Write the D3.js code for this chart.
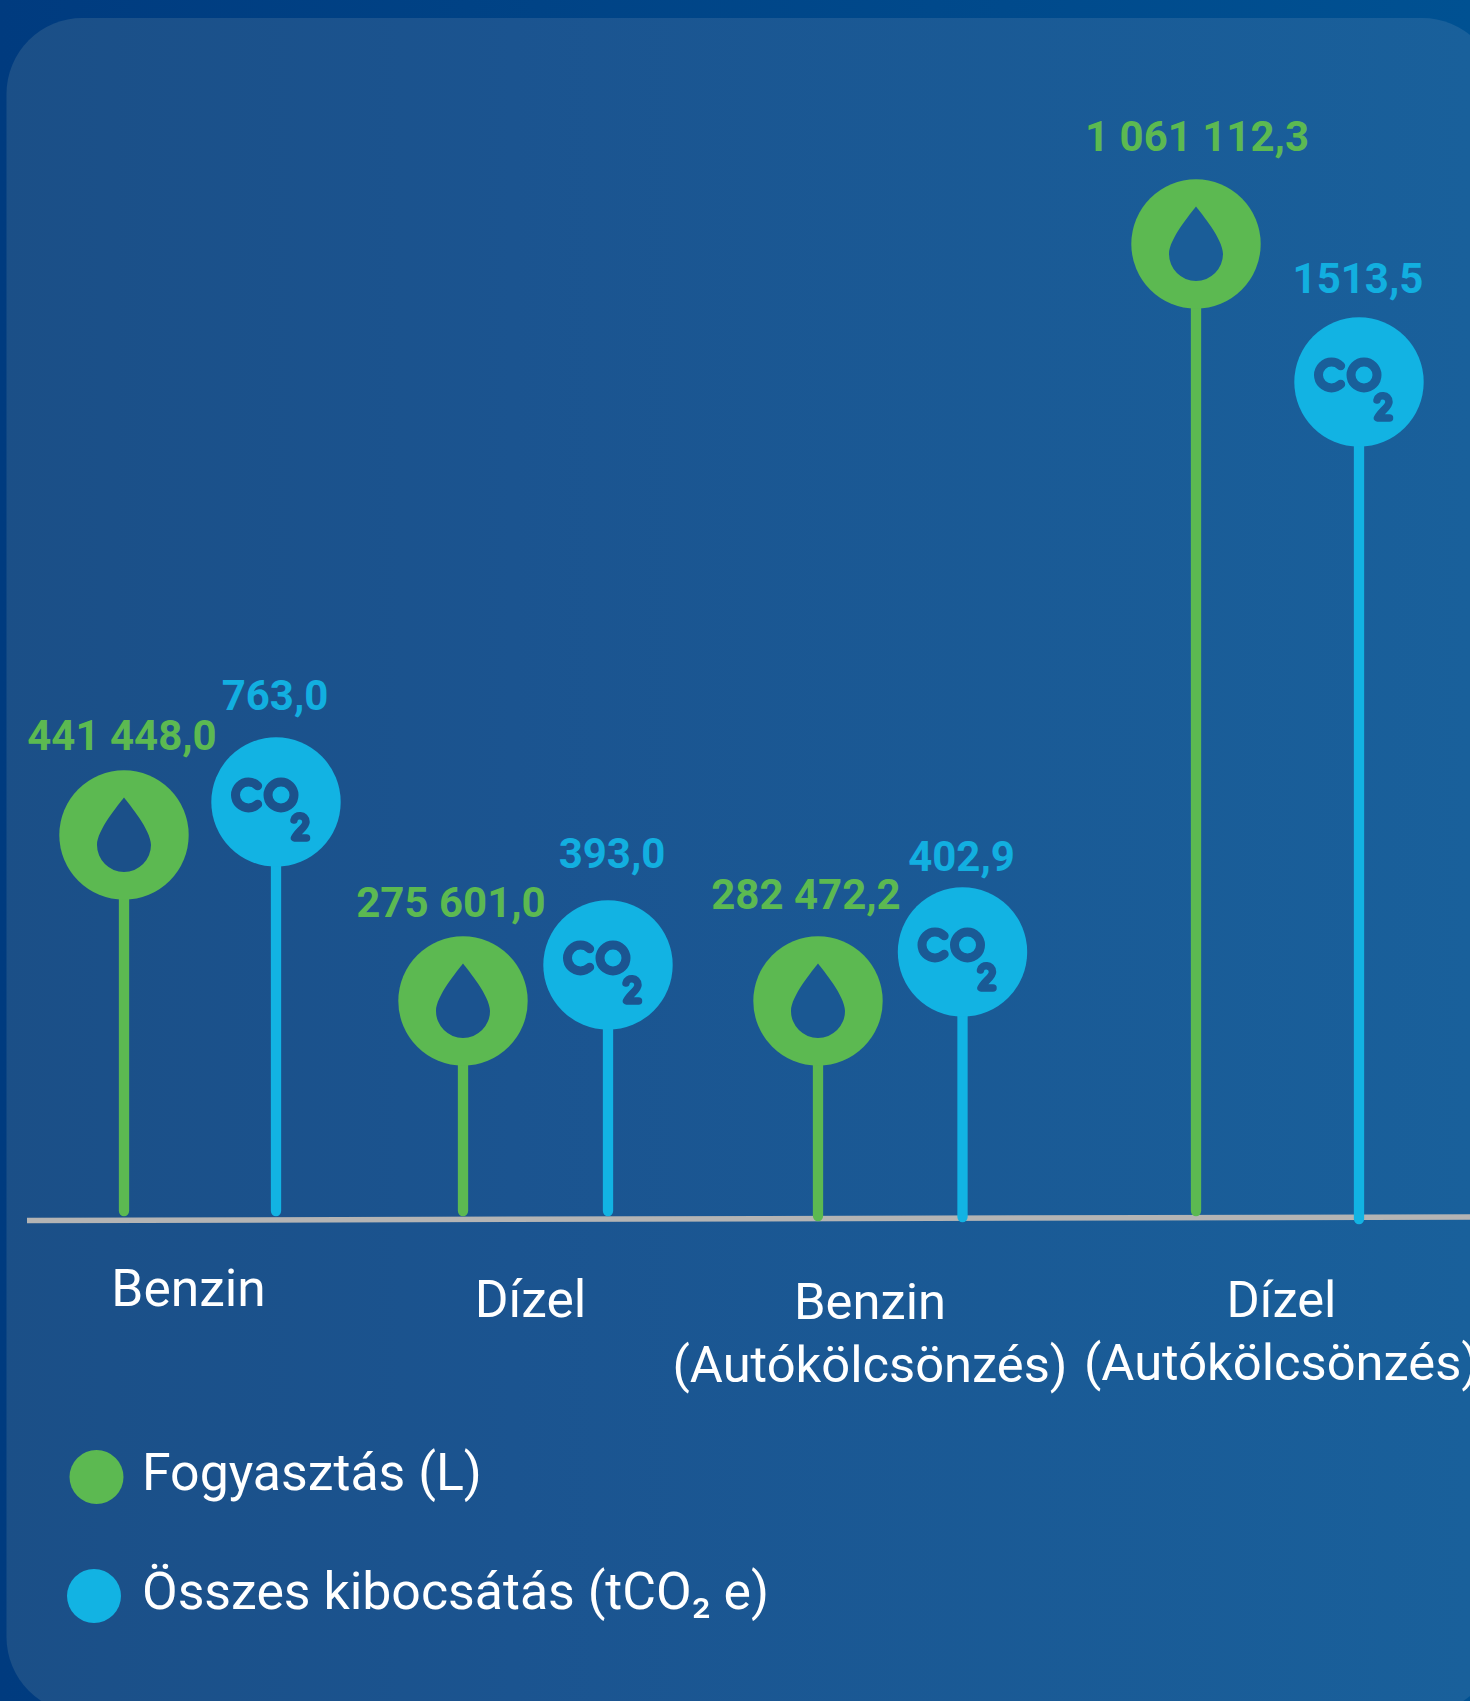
<!DOCTYPE html>
<html lang="hu">
<head>
  <meta charset="UTF-8">
  <title>Fogyasztás és kibocsátás</title>
  <script src="https://d3js.org/d3.v7.min.js"></script>
  <style>
    body { margin: 0; background: #003c80; overflow: hidden; }
    svg { display: block; font-family: Roboto, sans-serif; }
    .value { font-size: 42px; font-weight: 700; text-anchor: middle; }
    .cat { font-size: 51.5px; fill: #fff; text-anchor: middle; }
    .cat.long { font-size: 50.7px; }
    .legend-label { font-size: 51.8px; fill: #fff; }
  </style>
</head>
<body>
  <div id="chart"></div>

  <script>
    // data
    const categories = ["Benzin", "Dízel", "Benzin (Autókölcsönzés)", "Dízel (Autókölcsönzés)"];
    const fogyasztas = [441448.0, 275601.0, 282472.2, 1061112.3];
    const kibocsatas = [763.0, 393.0, 402.9, 1513.5];
    const seriesNames = ["Fogyasztás (L)", "Összes kibocsátás (tCO₂ e)"];

    const width = 1470, height = 1701, pinR = 64.7;
    const green = "#5cb951", blue = "#12b3e3";

    // the original infographic is not drawn to scale, so the y scales are piecewise
    const yGreen = d3.scaleLinear()
      .domain([275601, 282472.2, 441448, 1061112.3])
      .range([1001, 1001, 835, 244]);
    const yBlue = d3.scaleLinear()
      .domain([393, 402.9, 763, 1513.5])
      .range([965, 952, 802, 382]);

    const xGreen = d3.scaleOrdinal(categories, [124, 463, 818, 1196]);
    const xBlue = d3.scaleOrdinal(categories, [276, 608, 962.5, 1359]);
    const xCat = d3.scaleOrdinal(categories, [188.5, 530.5, 870, 1281.5]);

    // hand placed bits of the layout, one per category
    const greenBottom = [1216, 1216, 1221, 1216];
    const blueBottom = [1216, 1216, 1222, 1224];
    const greenLabel = [[-2, -85], [-12, -84], [-12, -92], [1, -93]];
    const blueLabel = [[-1, -92], [4, -97], [-1, -81], [-1, -89]];
    const catBase = [[1306], [1317], [1319, 1382], [1317, 1380]];

    // panel colour across the width, the icons are punched out in it
    const panelStops = [0, 0.35, 1];
    const panelColors = ["#1b4f87", "#1b5490", "#19609b"];
    const panelAt = d3.scaleLinear()
      .domain(panelStops.map(s => s * width))
      .range(panelColors);

    const locale = d3.formatLocale({ decimal: ",", thousands: " ", grouping: [3], currency: ["", ""] });
    const fmtGreen = locale.format(",.1f");
    const fmtBlue = locale.format(".1f");

    const svg = d3.select("#chart").append("svg")
      .attr("width", width)
      .attr("height", height);

    const defs = svg.append("defs");

    const outerGrad = defs.append("linearGradient").attr("id", "outerGrad");
    outerGrad.append("stop").attr("offset", 0).attr("stop-color", "#003b7f");
    outerGrad.append("stop").attr("offset", 1).attr("stop-color", "#005192");

    const panelGrad = defs.append("linearGradient").attr("id", "panelGrad")
      .attr("gradientUnits", "userSpaceOnUse")
      .attr("x1", 0).attr("x2", width);
    panelGrad.selectAll("stop").data(panelStops).join("stop")
      .attr("offset", d => d)
      .attr("stop-color", (d, i) => panelColors[i]);

    svg.append("rect")
      .attr("width", width).attr("height", height)
      .attr("fill", "url(#outerGrad)");
    // panel runs a little past the right and bottom edges of the page
    svg.append("rect")
      .attr("x", 6.5).attr("y", 18)
      .attr("width", 1491.5).attr("height", 1695)
      .attr("rx", 76)
      .attr("fill", "url(#panelGrad)");

    // icons, colour comes from the <use>
    const drop = defs.append("g").attr("id", "drop");
    drop.append("path")
      .attr("d", "M0,-37.5 C-5,-31 -27,-5 -27,10 A27,27 0 1 0 27,10 C27,-5 5,-31 0,-37.5Z");

    const co2 = defs.append("g").attr("id", "co2")
      .attr("fill", "none")
      .attr("stroke-linecap", "round")
      .attr("stroke-linejoin", "round");
    co2.append("path")
      .attr("stroke-width", 9)
      .attr("d", d3.arc()({ innerRadius: 13, outerRadius: 13, startAngle: Math.PI * 0.75, endAngle: Math.PI * 2.25 }))
      .attr("transform", "translate(-27.5,-7)");
    co2.append("circle")
      .attr("stroke-width", 9)
      .attr("cx", 5).attr("cy", -7).attr("r", 13);
    co2.append("path")
      .attr("stroke-width", 7.5)
      .attr("d", "M18,18 C19,12 30,12 30,20 C30,25 22,29 18.5,36 L30.5,36");

    const pins = (cls, values, x, y, bottoms, color, icon, paint) => {
      const g = svg.append("g").attr("class", cls);
      const rows = categories.map((c, i) => ({ c, v: values[i], i }));
      g.selectAll("line").data(rows).join("line")
        .attr("x1", d => x(d.c)).attr("x2", d => x(d.c))
        .attr("y1", d => y(d.v)).attr("y2", d => bottoms[d.i] - 5)
        .attr("stroke", color)
        .attr("stroke-width", 10.3)
        .attr("stroke-linecap", "round");
      g.selectAll("circle").data(rows).join("circle")
        .attr("cx", d => x(d.c)).attr("cy", d => y(d.v))
        .attr("r", pinR)
        .attr("fill", color);
      g.selectAll("use").data(rows).join("use")
        .attr("href", icon)
        .attr(paint, d => panelAt(x(d.c)))
        .attr("transform", d => `translate(${x(d.c)},${y(d.v)})`);
      return { g, rows };
    };

    // baseline goes under the stems, it leans a bit in the original
    svg.append("line")
      .attr("x1", 27).attr("y1", 1220.5)
      .attr("x2", width).attr("y2", 1217)
      .attr("stroke", "#b4b4b4")
      .attr("stroke-width", 5.5);

    const gp = pins("green", fogyasztas, xGreen, yGreen, greenBottom, green, "#drop", "fill");
    const bp = pins("blue", kibocsatas, xBlue, yBlue, blueBottom, blue, "#co2", "stroke");

    gp.g.selectAll("text").data(gp.rows).join("text")
      .attr("class", "value")
      .attr("x", d => xGreen(d.c) + greenLabel[d.i][0])
      .attr("y", d => yGreen(d.v) + greenLabel[d.i][1])
      .attr("fill", green)
      .text(d => fmtGreen(d.v));

    bp.g.selectAll("text").data(bp.rows).join("text")
      .attr("class", "value")
      .attr("x", d => xBlue(d.c) + blueLabel[d.i][0])
      .attr("y", d => yBlue(d.v) + blueLabel[d.i][1])
      .attr("fill", "#12afe0")
      .text(d => fmtBlue(d.v));

    // category labels, the long ones wrap before the bracket
    svg.append("g").selectAll("text").data(categories).join("text")
      .attr("class", (c, i) => i > 1 ? "cat long" : "cat")
      .each(function (c, i) {
        const parts = c.split(" ");
        d3.select(this).selectAll("tspan").data(parts).join("tspan")
          .attr("x", xCat(c))
          .attr("y", (p, j) => catBase[i][j])
          .text(p => p);
      });

    // legend
    const legendX = [96.5, 94];
    const legendY = [1477, 1596];
    const legend = svg.append("g").selectAll("g").data(seriesNames).join("g");
    legend.append("circle")
      .attr("cx", (d, i) => legendX[i])
      .attr("cy", (d, i) => legendY[i])
      .attr("r", 27)
      .attr("fill", (d, i) => i ? blue : green);
    legend.append("text")
      .attr("class", "legend-label")
      .attr("x", 142)
      .attr("y", (d, i) => legendY[i] + 13)
      .text(d => d);
  </script>
</body>
</html>
